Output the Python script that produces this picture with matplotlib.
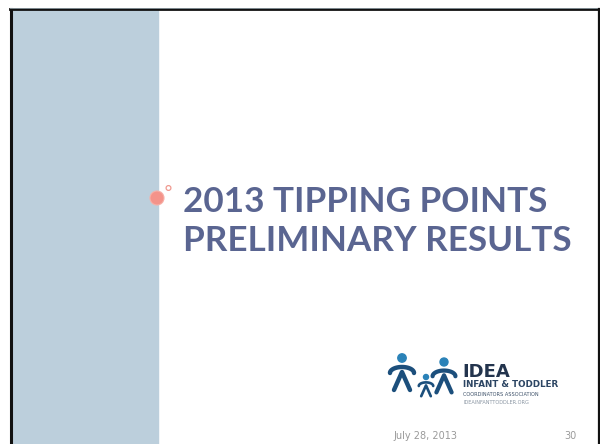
import matplotlib.pyplot as plt
from matplotlib.patches import Circle, Rectangle
import numpy as np

# slide content
title_lines = ["2013 TIPPING POINTS", "PRELIMINARY RESULTS"]
logo_name = "IDEA"
logo_lines = ["INFANT & TODDLER", "COORDINATORS ASSOCIATION", "IDEAINFANTTODDLER.ORG"]
footer_date = "July 28, 2013"
slide_number = "30"

W, H = 600, 444
fig = plt.figure(figsize=(W / 100, H / 100), dpi=100)
ax = fig.add_axes([0, 0, 1, 1])
ax.set_xlim(0, W)
ax.set_ylim(H, 0)
ax.axis("off")

# frame and side panel
ax.add_patch(Rectangle((0, 0), W, H, color="white", zorder=0))
ax.add_patch(Rectangle((12, 10), 146, H, color="#bccfdc", zorder=1))
ax.plot([11, 11], [9, H], color="#111111", lw=2.2, zorder=2)
ax.plot([10, 599], [9, 9], color="#111111", lw=2.0, zorder=2)
ax.plot([10, 599], [7.6, 7.6], color="#7f8c92", lw=0.7, zorder=2)
ax.plot([598.5, 598.5], [9, H], color="#111111", lw=1.6, zorder=2)

# bullet circles
ax.add_patch(Circle((157, 198), 7, color="#f4938a", ec="#f7b0a8", lw=0.8, zorder=3))
ax.add_patch(Circle((168.5, 188), 2.4, fc="white", ec="#f09a90", lw=0.9, zorder=3))

# title
for i, line in enumerate(title_lines):
    ax.text(183, 212 + i * 39, line, fontsize=25.2, fontweight="bold", family="Lato",
            color="#5a6591", ha="left", va="baseline", zorder=3)

# logo figures
navy = "#1c4f7c"
blue = "#2a82b8"


def person(cx, top, s):
    ax.add_patch(Circle((cx, top), 4.2 * s, color=blue, zorder=4))
    t = np.linspace(0, np.pi, 30)
    ax.plot(cx + 12 * s * np.cos(t), top + 15 * s - 6 * s * np.sin(t),
            color=navy, lw=3.2 * s, solid_capstyle="round", zorder=4)
    ax.plot([cx - 8 * s, cx, cx + 8 * s], [top + 32 * s, top + 14 * s, top + 32 * s],
            color=navy, lw=3.2 * s, solid_capstyle="round", zorder=4)


person(402, 358, 1.0)
person(444, 362, 0.95)
person(426, 377, 0.6)

ax.text(462, 377, logo_name, fontsize=13, fontweight="bold", family="DejaVu Sans",
        color="#23344d", ha="left", va="baseline", zorder=4)
ax.text(463, 387, logo_lines[0], fontsize=6.3, fontweight="bold", family="DejaVu Sans",
        color="#2c4563", ha="left", va="baseline", zorder=4)
ax.text(463, 396, logo_lines[1], fontsize=3.6, family="DejaVu Sans",
        color="#3c5068", ha="left", va="baseline", zorder=4)
ax.text(463, 404, logo_lines[2], fontsize=3.6, family="DejaVu Sans",
        color="#8a96a3", ha="left", va="baseline", zorder=4)

# footer
ax.text(425, 439, footer_date, fontsize=7, family="DejaVu Sans", color="#9a9a9a",
        ha="center", va="baseline", zorder=3)
ax.text(577, 439, slide_number, fontsize=7, family="DejaVu Sans", color="#9a9a9a",
        ha="right", va="baseline", zorder=3)

fig.savefig("out.png", dpi=100)
